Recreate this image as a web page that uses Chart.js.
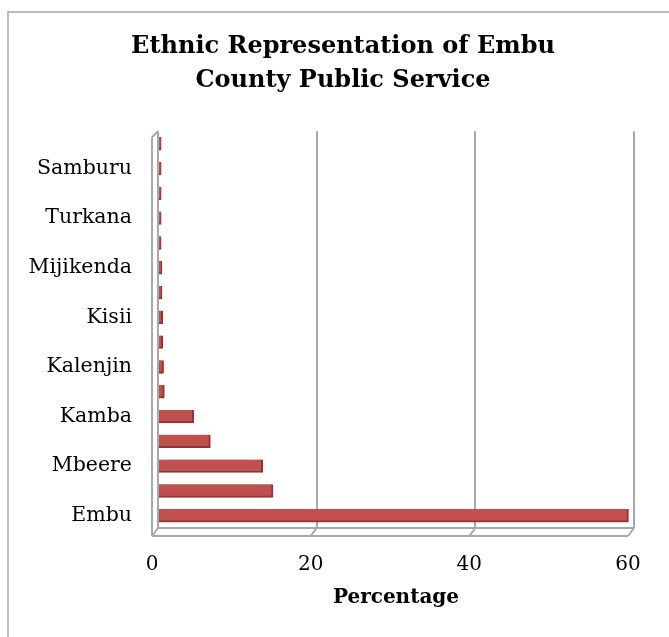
<!DOCTYPE html>
<html>
<head>
<meta charset="utf-8">
<title>Ethnic Representation of Embu County Public Service</title>
<script src="https://cdn.jsdelivr.net/npm/chart.js@4.4.1/dist/chart.umd.min.js"></script>
<style>
body { margin: 0; background: #fff; }
</style>
</head>
<body>
<canvas id="chart" width="669" height="637"></canvas>
<script>
// Категории снизу вверх (подписана только каждая вторая, как на картинке)
const categories = ["Embu", "", "Mbeere", "", "Kamba", "", "Kalenjin", "", "Kisii", "", "Mijikenda", "", "Turkana", "", "Samburu", ""];
// Проценты
const percentages = [59.3, 14.5, 13.2, 6.6, 4.5, 0.8, 0.7, 0.6, 0.6, 0.5, 0.5, 0.4, 0.4, 0.4, 0.4, 0.4];
// Деления оси X
const xTicks = [0, 20, 40, 60];
const chartTitle = ["Ethnic Representation of Embu", "County Public Service"];
const axisTitle = "Percentage";

Chart.defaults.font.family = "'DejaVu Serif', serif";
Chart.defaults.color = "#000";

// Рамка вокруг диаграммы и белый фон
const frame = {
  id: 'frame',
  beforeDraw(chart) {
    const ctx = chart.ctx;
    ctx.save();
    ctx.fillStyle = '#fff';
    ctx.fillRect(0, 0, chart.width, chart.height);
    ctx.strokeStyle = '#a6a6a6';
    ctx.lineWidth = 1.5;
    ctx.beginPath();
    ctx.moveTo(8, chart.height);
    ctx.lineTo(8, 12);
    ctx.lineTo(chart.width, 12);
    ctx.stroke();
    ctx.restore();
  }
};

// Псевдо-3D: левая стенка и пол
const box3d = {
  id: 'box3d',
  beforeDatasetsDraw(chart) {
    const ctx = chart.ctx;
    const a = chart.chartArea;
    const x = chart.scales.x;
    const dx = 6, dy = 8;
    ctx.save();
    ctx.strokeStyle = '#a8a8a8';
    ctx.lineWidth = 2;
    ctx.beginPath();
    ctx.moveTo(a.left, a.top); ctx.lineTo(a.left, a.bottom);
    ctx.moveTo(a.left - dx, a.top + dx); ctx.lineTo(a.left - dx, a.bottom + dy);
    ctx.moveTo(a.left, a.top); ctx.lineTo(a.left - dx, a.top + dx);
    ctx.moveTo(a.left, a.bottom); ctx.lineTo(a.right, a.bottom);
    ctx.moveTo(a.left - dx, a.bottom + dy); ctx.lineTo(a.right - dx, a.bottom + dy);
    xTicks.forEach(v => {
      const px = x.getPixelForValue(v);
      ctx.moveTo(px, a.bottom);
      ctx.lineTo(px - dx, a.bottom + dy);
    });
    ctx.stroke();
    ctx.restore();
  }
};

window.onload = () => {
  new Chart(document.getElementById('chart'), {
    type: 'bar',
    data: {
      labels: categories,
      datasets: [{
        label: axisTitle,
        data: percentages,
        backgroundColor: '#c0504d',
        borderColor: '#8b3634',
        borderWidth: { top: 0, right: 2, bottom: 2, left: 0 },
        barThickness: 13
      }]
    },
    options: {
      indexAxis: 'y',
      responsive: false,
      animation: false,
      layout: { padding: { left: 17, right: 0, top: 12, bottom: 0 } },
      plugins: {
        legend: { display: false },
        tooltip: { enabled: false },
        title: {
          display: true,
          text: chartTitle,
          color: '#000',
          font: { size: 24, weight: 'bold', lineHeight: 1.4 },
          padding: { top: 18, bottom: 34 }
        }
      },
      scales: {
        x: {
          min: xTicks[0],
          max: xTicks[xTicks.length - 1],
          ticks: { stepSize: 20, labelOffset: -6, padding: 25, font: { size: 20 }, color: '#000' },
          grid: { color: '#a8a8a8', lineWidth: 2, drawTicks: false },
          border: { display: false },
          title: {
            display: true,
            text: axisTitle,
            color: '#000',
            font: { size: 20, weight: 'bold' },
            padding: { top: 4, bottom: 27 }
          },
          afterFit: s => { s.height = 109; s.paddingRight = 35; }
        },
        y: {
          reverse: true,
          ticks: { autoSkip: false, padding: 26, font: { size: 20.5 }, color: '#000' },
          grid: { display: false, drawTicks: false },
          border: { display: false },
          afterFit: s => { s.width = 141; }
        }
      }
    },
    plugins: [frame, box3d]
  });
};
</script>
</body>
</html>
